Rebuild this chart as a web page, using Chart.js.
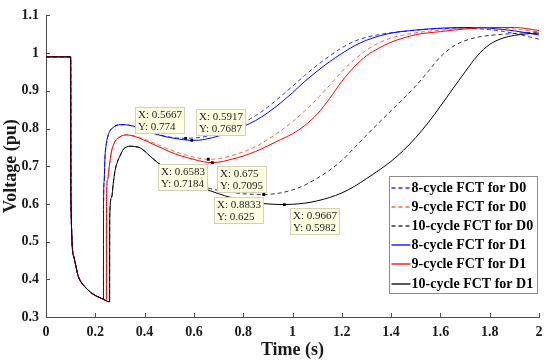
<!DOCTYPE html>
<html>
<head>
<meta charset="utf-8">
<script src="https://cdn.jsdelivr.net/npm/chart.js@4.4.1/dist/chart.umd.min.js"></script>
<style>
  html, body { margin: 0; padding: 0; background: #fff; }
  #wrap { width: 550px; height: 364px; }
</style>
</head>
<body>
<div id="wrap"><canvas id="fctChart"></canvas></div>
<script>
// axis ticks
const xTicks = [0, 0.2, 0.4, 0.6, 0.8, 1, 1.2, 1.4, 1.6, 1.8, 2];
const yTicks = [0.3, 0.4, 0.5, 0.6, 0.7, 0.8, 0.9, 1, 1.1];

// common part: pre-fault and fault (same for every case)
const tFault = [0, 0.1, 0.101, 0.113, 0.118, 0.13, 0.14, 0.158, 0.18, 0.2, 0.22, 0.233];
const vFault = [0.99, 0.99, 0.62, 0.46, 0.445, 0.41, 0.395, 0.38, 0.366, 0.357, 0.351, 0.347];

// 8-cycle FCT (cleared ~0.233 s)
const t8D1 = [0.2335, 0.236, 0.239, 0.245, 0.253, 0.263, 0.273, 0.285, 0.3, 0.317, 0.334, 0.355, 0.38, 0.4, 0.43, 0.452, 0.48, 0.503, 0.53, 0.56, 0.5917, 0.62, 0.65, 0.7, 0.75, 0.8, 0.85, 0.9, 0.95, 1, 1.05, 1.1, 1.15, 1.2, 1.25, 1.3, 1.35, 1.4, 1.5, 1.6, 1.7, 1.8, 1.9, 2];
const v8D1 = [0.6, 0.66, 0.72, 0.76, 0.784, 0.797, 0.803, 0.808, 0.81, 0.81, 0.809, 0.806, 0.8, 0.795, 0.788, 0.784, 0.779, 0.776, 0.773, 0.77, 0.7687, 0.769, 0.772, 0.78, 0.791, 0.805, 0.821, 0.842, 0.867, 0.895, 0.925, 0.952, 0.977, 0.999, 1.019, 1.034, 1.045, 1.053, 1.061, 1.066, 1.068, 1.066, 1.059, 1.048];
const t8D0 = [0.2335, 0.236, 0.239, 0.245, 0.253, 0.263, 0.273, 0.285, 0.3, 0.317, 0.334, 0.355, 0.38, 0.4, 0.43, 0.452, 0.48, 0.503, 0.53, 0.5667, 0.6, 0.65, 0.7, 0.75, 0.8, 0.85, 0.9, 0.95, 1, 1.05, 1.1, 1.15, 1.2, 1.25, 1.3, 1.35, 1.4, 1.5, 1.6, 1.7, 1.8, 1.85, 1.9, 2];
const v8D0 = [0.6, 0.66, 0.72, 0.76, 0.784, 0.797, 0.803, 0.808, 0.81, 0.81, 0.809, 0.806, 0.8, 0.795, 0.789, 0.785, 0.78, 0.777, 0.775, 0.774, 0.775, 0.779, 0.787, 0.799, 0.815, 0.834, 0.857, 0.884, 0.912, 0.941, 0.968, 0.992, 1.014, 1.031, 1.042, 1.049, 1.054, 1.061, 1.065, 1.066, 1.062, 1.058, 1.052, 1.037];

// 9-cycle FCT (cleared ~0.245 s)
const t9D1 = [0.245, 0.2455, 0.25, 0.256, 0.266, 0.276, 0.287, 0.3, 0.314, 0.327, 0.341, 0.36, 0.381, 0.41, 0.435, 0.47, 0.503, 0.54, 0.571, 0.6, 0.638, 0.675, 0.72, 0.75, 0.8, 0.85, 0.9, 0.95, 1, 1.05, 1.1, 1.15, 1.2, 1.25, 1.3, 1.35, 1.4, 1.45, 1.5, 1.6, 1.7, 1.8, 1.9, 2];
const v9D1 = [0.343, 0.62, 0.665, 0.696, 0.74, 0.76, 0.771, 0.778, 0.782, 0.783, 0.782, 0.779, 0.774, 0.766, 0.758, 0.748, 0.738, 0.729, 0.723, 0.718, 0.712, 0.7095, 0.713, 0.718, 0.727, 0.739, 0.754, 0.77, 0.786, 0.808, 0.838, 0.879, 0.925, 0.963, 0.993, 1.013, 1.029, 1.04, 1.049, 1.057, 1.064, 1.068, 1.068, 1.06];
const t9D0 = [0.245, 0.2455, 0.25, 0.256, 0.266, 0.276, 0.287, 0.3, 0.314, 0.327, 0.341, 0.36, 0.381, 0.41, 0.435, 0.47, 0.503, 0.54, 0.571, 0.6, 0.6583, 0.7, 0.75, 0.8, 0.85, 0.9, 0.95, 1, 1.05, 1.1, 1.15, 1.2, 1.25, 1.3, 1.35, 1.4, 1.45, 1.5, 1.6, 1.7, 1.8, 1.9, 2];
const v9D0 = [0.343, 0.62, 0.665, 0.696, 0.74, 0.76, 0.771, 0.778, 0.782, 0.783, 0.782, 0.78, 0.776, 0.769, 0.762, 0.753, 0.744, 0.735, 0.729, 0.724, 0.7184, 0.72, 0.728, 0.738, 0.752, 0.771, 0.793, 0.818, 0.847, 0.879, 0.914, 0.951, 0.982, 1.008, 1.027, 1.04, 1.048, 1.054, 1.061, 1.066, 1.068, 1.064, 1.056];

// 10-cycle FCT (cleared ~0.258 s)
const t10D1 = [0.245, 0.258, 0.2585, 0.266, 0.273, 0.28, 0.29, 0.3, 0.314, 0.327, 0.341, 0.36, 0.381, 0.4, 0.422, 0.452, 0.5, 0.55, 0.6, 0.652, 0.7, 0.75, 0.8, 0.85, 0.9, 0.9667, 1, 1.05, 1.1, 1.15, 1.2, 1.25, 1.3, 1.35, 1.4, 1.45, 1.5, 1.55, 1.6, 1.65, 1.7, 1.75, 1.8, 1.85, 1.9, 1.95, 2];
const v10D1 = [0.343, 0.34, 0.565, 0.617, 0.655, 0.688, 0.712, 0.727, 0.745, 0.751, 0.753, 0.752, 0.749, 0.74, 0.727, 0.71, 0.687, 0.668, 0.652, 0.638, 0.627, 0.617, 0.609, 0.603, 0.6, 0.5982, 0.599, 0.602, 0.608, 0.617, 0.629, 0.646, 0.667, 0.689, 0.713, 0.742, 0.776, 0.815, 0.859, 0.905, 0.95, 0.993, 1.023, 1.039, 1.047, 1.051, 1.053];
const t10D0 = [0.245, 0.258, 0.2585, 0.266, 0.273, 0.28, 0.29, 0.3, 0.314, 0.327, 0.341, 0.36, 0.381, 0.4, 0.422, 0.452, 0.5, 0.55, 0.6, 0.652, 0.7, 0.75, 0.8, 0.8833, 0.95, 1, 1.05, 1.1, 1.15, 1.2, 1.25, 1.3, 1.35, 1.4, 1.45, 1.5, 1.55, 1.6, 1.65, 1.7, 1.75, 1.8, 1.9, 2];
const v10D0 = [0.343, 0.34, 0.565, 0.617, 0.655, 0.688, 0.712, 0.727, 0.745, 0.751, 0.753, 0.752, 0.749, 0.74, 0.727, 0.71, 0.688, 0.67, 0.655, 0.643, 0.636, 0.631, 0.627, 0.625, 0.629, 0.637, 0.65, 0.668, 0.689, 0.715, 0.748, 0.782, 0.815, 0.847, 0.879, 0.913, 0.951, 0.99, 1.017, 1.033, 1.042, 1.047, 1.052, 1.056];

// data tips
const tipT = [0.5667, 0.5917, 0.6583, 0.675, 0.8833, 0.9667];
const tipV = [0.774, 0.7687, 0.7184, 0.7095, 0.625, 0.5982];

const SERIF = "'Liberation Serif', 'Times New Roman', serif";

function pts(t, v) {
  const tt = tFault.concat(t);
  const vv = vFault.concat(v);
  return tt.map((x, i) => ({ x: x, y: vv[i] }));
}

function line(label, t, v, color, dashed, order) {
  return {
    label: label,
    data: pts(t, v),
    borderColor: color,
    borderWidth: 1,
    borderDash: dashed ? [4, 3] : [],
    pointRadius: 0,
    cubicInterpolationMode: "monotone",
    fill: false,
    order: order,
  };
}

// offsets of each data tip box from its marker (px)
const tipBoxes = [[-51, -31], [4, -31], [-50, 5], [5, 3], [-50, 3], [6, 3]];

const extras = {
  id: "extras",
  afterDraw(chart) {
    const ctx = chart.ctx;
    const xs = chart.scales.x, ys = chart.scales.y;
    const area = chart.chartArea;
    ctx.save();

    // inward tick marks
    ctx.strokeStyle = "#4d4d4d";
    ctx.lineWidth = 1;
    ctx.beginPath();
    xTicks.forEach((v) => {
      const px = Math.round(xs.getPixelForValue(v)) + 0.5;
      ctx.moveTo(px, area.bottom);
      ctx.lineTo(px, area.bottom - 4);
    });
    yTicks.forEach((v) => {
      const py = Math.round(ys.getPixelForValue(v)) + 0.5;
      ctx.moveTo(area.left, py);
      ctx.lineTo(area.left + 4, py);
    });
    ctx.stroke();

    // data tip boxes
    const meta = chart.getDatasetMeta(0);
    ctx.font = "11px " + SERIF;
    ctx.textBaseline = "middle";
    ctx.textAlign = "left";
    meta.data.forEach((p, i) => {
      const bx = Math.round(p.x + tipBoxes[i][0]) + 0.5;
      const by = Math.round(p.y + tipBoxes[i][1]) + 0.5;
      ctx.fillStyle = "#ffffe1";
      ctx.fillRect(bx, by, 49, 26);
      ctx.strokeStyle = "#d2d2bc";
      ctx.strokeRect(bx, by, 49, 26);
      ctx.fillStyle = "#1a1a1a";
      ctx.fillText("X: " + tipT[i], bx + 2.5, by + 7.5);
      ctx.fillText("Y: " + tipV[i], bx + 2.5, by + 19.5);
    });

    // legend
    const lx = 389.5, ly = 176.5, lw = 148, lh = 117;
    ctx.fillStyle = "#fff";
    ctx.fillRect(lx, ly, lw, lh);
    ctx.strokeStyle = "#8c8c8c";
    ctx.strokeRect(lx, ly, lw, lh);
    ctx.font = "bold 14px " + SERIF;
    chart.data.datasets.slice(1).forEach((ds, i) => {
      const y = Math.round(ly + 11 + i * 19.2);
      ctx.strokeStyle = ds.borderColor;
      ctx.lineWidth = 1.3;
      ctx.setLineDash(ds.borderDash);
      ctx.beginPath();
      ctx.moveTo(lx + 2, y);
      ctx.lineTo(lx + 21, y);
      ctx.stroke();
      ctx.setLineDash([]);
      ctx.fillStyle = "#000";
      ctx.fillText(ds.label, lx + 22, y);
    });
    ctx.restore();
  },
};

new Chart(document.getElementById("fctChart"), {
  type: "line",
  data: {
    datasets: [
      {
        type: "scatter",
        label: "tips",
        data: tipT.map((x, i) => ({ x: x, y: tipV[i] })),
        pointStyle: "rect",
        pointRadius: 2,
        pointBackgroundColor: "#000",
        pointBorderColor: "#000",
        pointBorderWidth: 0,
        showLine: false,
        order: 0,
      },
      line("8-cycle FCT for D0", t8D0, v8D0, "#3030ff", true, 6),
      line("9-cycle FCT for D0", t9D0, v9D0, "#ff6a3d", true, 5),
      line("10-cycle FCT for D0", t10D0, v10D0, "#333333", true, 4),
      line("8-cycle FCT for D1", t8D1, v8D1, "#0000ff", false, 3),
      line("9-cycle FCT for D1", t9D1, v9D1, "#ff0000", false, 2),
      line("10-cycle FCT for D1", t10D1, v10D1, "#000000", false, 1),
    ],
  },
  options: {
    responsive: true,
    maintainAspectRatio: false,
    animation: false,
    events: [],
    layout: { padding: { top: 13, right: 11, bottom: 0, left: 0 } },
    plugins: {
      legend: { display: false },
      tooltip: { enabled: false },
    },
    scales: {
      x: {
        type: "linear",
        min: 0,
        max: 2,
        afterBuildTicks: (s) => { s.ticks = xTicks.map((v) => ({ value: v })); },
        afterFit: (s) => { s.height = 47; },
        grid: { display: false, drawTicks: false },
        border: { display: true, color: "#4d4d4d", width: 1 },
        ticks: {
          padding: 7,
          color: "#1a1a1a",
          font: { family: SERIF, size: 14, weight: "bold" },
          callback: (v) => String(v),
          maxRotation: 0,
        },
        title: {
          display: true,
          text: "Time (s)",
          color: "#1a1a1a",
          font: { family: SERIF, size: 18, weight: "bold" },
          padding: { top: 0, bottom: 3 },
        },
      },
      y: {
        type: "linear",
        min: 0.3,
        max: 1.1,
        afterBuildTicks: (s) => { s.ticks = yTicks.map((v) => ({ value: v })); },
        afterFit: (s) => { s.width = 46; },
        grid: { display: false, drawTicks: false },
        border: { display: true, color: "#4d4d4d", width: 1 },
        ticks: {
          padding: 7,
          color: "#1a1a1a",
          font: { family: SERIF, size: 14, weight: "bold" },
          callback: (v) => String(v),
        },
        title: {
          display: true,
          text: "Voltage (pu)",
          color: "#1a1a1a",
          font: { family: SERIF, size: 18, weight: "bold" },
          padding: { top: 1, bottom: 0 },
        },
      },
    },
  },
  plugins: [extras],
});
</script>
</body>
</html>
